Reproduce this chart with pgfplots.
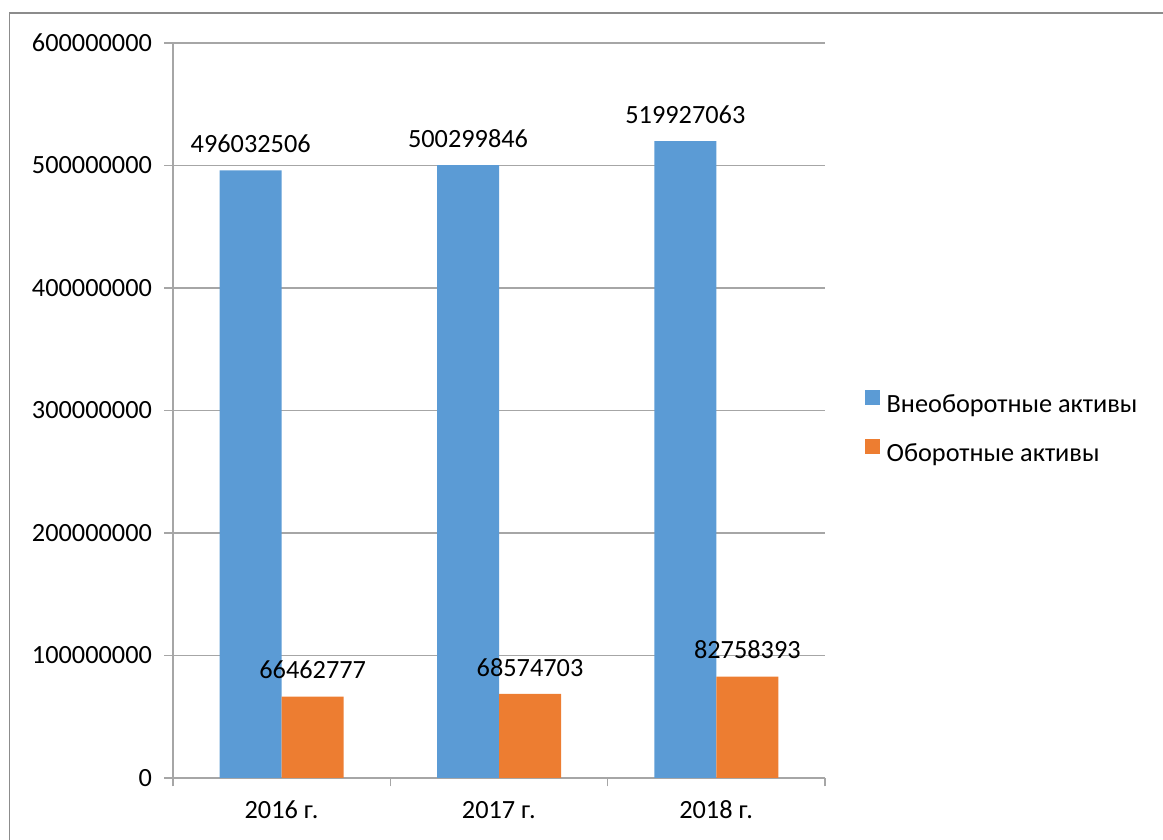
\documentclass[border=0pt]{standalone}
\usepackage{pgfplots}
\pgfplotsset{compat=1.18}
\usepackage{fontspec}
\setmainfont{Carlito}
\definecolor{cblue}{HTML}{5B9BD5}
\definecolor{corange}{HTML}{ED7D31}
\definecolor{cgrid}{HTML}{A6A6A6}
\definecolor{cframe}{HTML}{8C8C8C}
\newcommand{\cf}{\fontsize{26.3}{31}\selectfont}
\begin{document}
\begin{tikzpicture}[x=1pt,y=1pt]
\useasboundingbox (0,0) rectangle (1163,840);
\draw[cframe, line width=1.5pt] (9.5,-30) rectangle (1200,827);
\begin{axis}[
  at={(173pt,62pt)}, anchor=south west,
  scale only axis, width=652pt, height=735pt,
  xmin=-0.5, xmax=2.5, ymin=0, ymax=600000000,
  ybar=0pt, bar width=62pt,
  axis x line*=bottom, axis y line*=left,
  axis line style={cgrid, line width=1.3pt, -},
  tick style={cgrid, line width=1.3pt},
  tick align=outside, major tick length=8.5pt,
  xtick={-0.5,0.5,1.5,2.5},
  xticklabels={2016 г., 2017 г., 2018 г., {}},
  xticklabel style={xshift=108.5pt, yshift=-11pt, font=\cf},
  scaled y ticks=false,
  ytick={0,100000000,200000000,300000000,400000000,500000000,600000000},
  yticklabels={0,100000000,200000000,300000000,400000000,500000000,600000000},
  yticklabel style={font=\cf, xshift=-9pt},
  ymajorgrids, grid style={cgrid, line width=1.3pt},
  /pgf/number format/assume math mode=true,
  point meta=explicit symbolic,
  nodes near coords,
  nodes near coords style={font=\cf, anchor=south, yshift=14pt, text=black},
  legend image code/.code={\fill[#1,draw=none] (0pt,-1pt) rectangle (15pt,14pt); \path (20pt,0pt);},
  legend style={draw=none, fill=none, at={(1.0567,0.531)}, anchor=north west,
    font=\cf, row sep=24pt, nodes={inner sep=1.5pt}},
  legend cell align=left,
]
\addplot[fill=cblue, draw=none] coordinates {(0,496032506) [496032506] (1,500299846) [500299846] (2,519927063) [519927063]};
\addplot[fill=corange, draw=none] coordinates {(0,66462777) [66462777] (1,68574703) [68574703] (2,82758393) [82758393]};
\legend{Внеоборотные активы, Оборотные активы}
\end{axis}
\end{tikzpicture}
\end{document}
